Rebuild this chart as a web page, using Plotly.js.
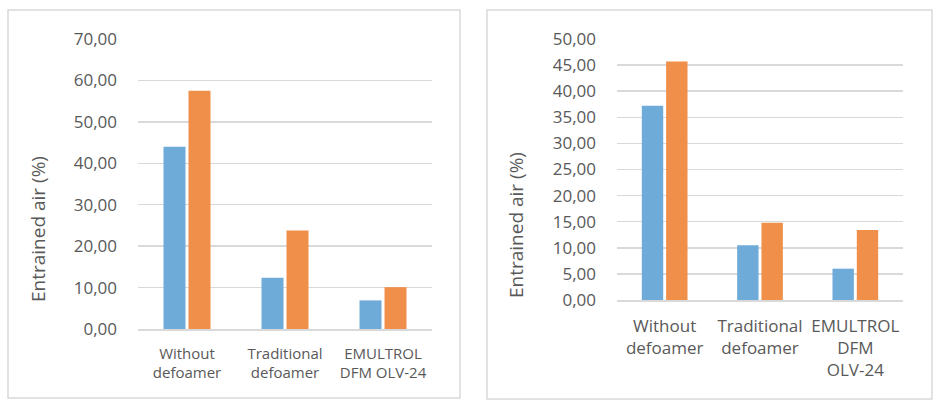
<!DOCTYPE html>
<html>
<head>
<meta charset="utf-8">
<script src="https://cdn.plot.ly/plotly-3.0.1.min.js"></script>
<style>
  html, body { margin: 0; padding: 0; background: #fff; }
  #chart { width: 941px; height: 408px; }
</style>
</head>
<body>
<div id="chart"></div>
<script>
// Left panel
const leftCategories = ["Without<br>defoamer", "Traditional<br>defoamer", "EMULTROL<br>DFM OLV-24"];
const leftBlue   = [44.0, 12.4, 6.9];
const leftOrange = [57.5, 23.8, 10.1];
const leftTicks  = [0, 10, 20, 30, 40, 50, 60, 70];

// Right panel
const rightCategories = ["Without<br>defoamer", "Traditional<br>defoamer", "EMULTROL<br>DFM<br>OLV-24"];
const rightBlue   = [37.2, 10.5, 6.0];
const rightOrange = [45.7, 14.8, 13.4];
const rightTicks  = [0, 5, 10, 15, 20, 25, 30, 35, 40, 45, 50];

const yTitle = "Entrained air (%)";

const BLUE = "#6EABD9";
const ORANGE = "#EF8F4A";
const TEXT = "#595959";
const GRID = "#D9D9D9";
const FONT = "Open Sans, sans-serif";

const W = 941, H = 408;
const px = x => x / W;
const py = y => 1 - y / H;

const fmt = v => v.toFixed(2).replace(".", ",");

function bar(x, y, color, xa, ya) {
  return {
    type: "bar", x, y, xaxis: xa, yaxis: ya,
    marker: { color, line: { width: 0 } },
    hoverinfo: "skip", showlegend: false,
  };
}

const data = [
  bar(leftCategories, leftBlue, BLUE, "x", "y"),
  bar(leftCategories, leftOrange, ORANGE, "x", "y"),
  bar(rightCategories, rightBlue, BLUE, "x2", "y2"),
  bar(rightCategories, rightOrange, ORANGE, "x2", "y2"),
];

function yAxis(ticks, domain, anchor) {
  return {
    domain, anchor,
    range: [0, ticks[ticks.length - 1]],
    tickvals: ticks,
    ticktext: ticks.map(fmt),
    ticks: "",
    ticklabelstandoff: 20,
    tickfont: { family: FONT, size: 17, color: TEXT },
    gridcolor: GRID, gridwidth: 1.5,
    zeroline: false, showline: false,
    fixedrange: true,
  };
}

function xAxis(domain, anchor, size, standoff) {
  return {
    domain, anchor,
    type: "category",
    ticks: "",
    ticklabelstandoff: standoff,
    tickfont: { family: FONT, size, color: TEXT },
    showline: true, linecolor: GRID, linewidth: 1.5,
    showgrid: false, zeroline: false,
    fixedrange: true,
  };
}

// Excel centres the axis title on the chart area, not the plot area,
// so place it as a rotated annotation.
function titleNote(x, y) {
  return {
    xref: "paper", yref: "paper", x: px(x), y: py(y),
    xanchor: "center", yanchor: "middle", textangle: -90,
    text: yTitle, showarrow: false,
    font: { family: FONT, size: 19, color: TEXT },
  };
}

const layout = {
  width: W, height: H,
  margin: { l: 0, r: 0, t: 0, b: 0 },
  paper_bgcolor: "#fff",
  plot_bgcolor: "rgba(0,0,0,0)",
  barmode: "group",
  bargap: 0.49,
  bargroupgap: 0.12,
  xaxis:  xAxis([px(138), px(432)], "y", 15, 10),
  yaxis:  yAxis(leftTicks, [py(329), py(39)], "x"),
  xaxis2: xAxis([px(617), px(903)], "y2", 17, 10),
  yaxis2: yAxis(rightTicks, [py(300), py(39)], "x2"),
  annotations: [titleNote(38, 229), titleNote(516, 225)],
  shapes: [
    { type: "rect", xref: "paper", yref: "paper",
      x0: px(8), x1: px(460), y0: py(398), y1: py(10),
      line: { color: GRID, width: 1.5 } },
    { type: "rect", xref: "paper", yref: "paper",
      x0: px(487), x1: px(932), y0: py(399), y1: py(10),
      line: { color: GRID, width: 1.5 } },
  ],
};

Plotly.newPlot("chart", data, layout, { displayModeBar: false, staticPlot: true });
</script>
</body>
</html>
